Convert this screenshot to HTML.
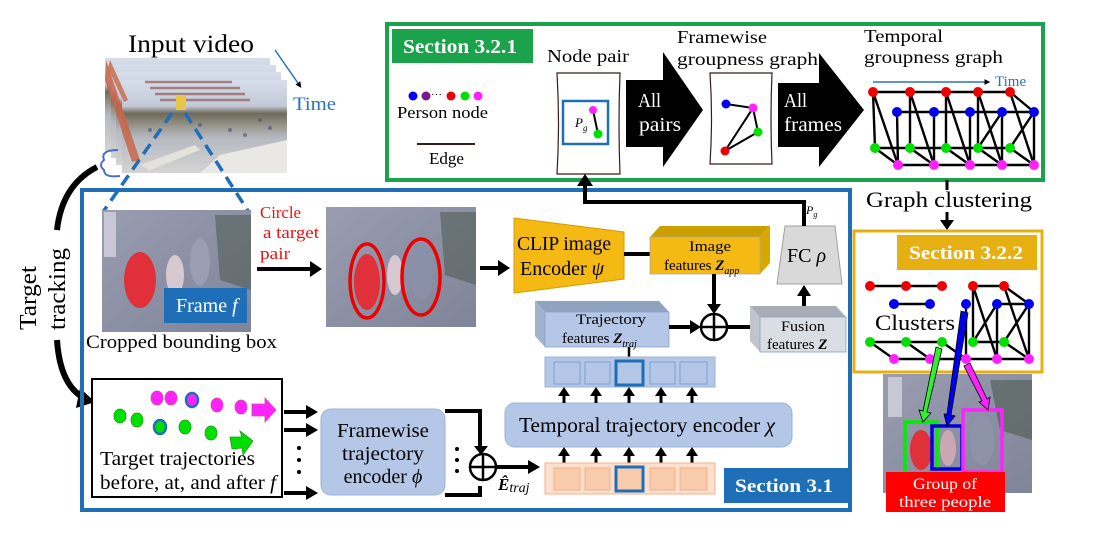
<!DOCTYPE html>
<html><head><meta charset="utf-8"><style>
html,body{margin:0;padding:0;background:#fff;}
svg{display:block;font-family:"Liberation Serif","DejaVu Serif",serif;}
</style></head><body>
<svg width="1094" height="539" viewBox="0 0 1094 539" xmlns="http://www.w3.org/2000/svg">
<defs>
<marker id="ah" markerWidth="4" markerHeight="4" refX="2.5" refY="2" orient="auto" markerUnits="strokeWidth"><path d="M0,0 L4,2 L0,4 z" fill="#000"/></marker>
<linearGradient id="vid" x1="0" y1="0" x2="0" y2="1"><stop offset="0" stop-color="#d6deec"/><stop offset="0.28" stop-color="#c3c9d6"/><stop offset="0.36" stop-color="#6f6a5a"/><stop offset="0.5" stop-color="#9a9890"/><stop offset="0.62" stop-color="#b7b9c2"/><stop offset="1" stop-color="#d4d4d2"/></linearGradient>
<linearGradient id="ph" x1="0" y1="0" x2="1" y2="1"><stop offset="0" stop-color="#9a9db0"/><stop offset="0.6" stop-color="#8a8ea3"/><stop offset="1" stop-color="#7f8498"/></linearGradient>
</defs>

<!-- Input video -->
<text x="128" y="52" font-size="25" textLength="126" lengthAdjust="spacingAndGlyphs">Input video</text>
<g>
<rect x="105" y="58" width="165" height="93" fill="url(#vid)"/>
<rect x="111" y="65" width="165" height="93" fill="url(#vid)"/>
<rect x="116" y="72" width="165" height="93" fill="url(#vid)"/>
<rect x="122" y="80" width="165" height="93" fill="url(#vid)"/>
<g stroke="#9a6a6a" stroke-width="2.5" opacity="0.8"><line x1="145" y1="82" x2="232" y2="82"/><line x1="150" y1="88" x2="240" y2="88"/><line x1="155" y1="94" x2="245" y2="94"/><line x1="160" y1="100" x2="250" y2="100"/></g>
<path d="M106,60 L140,160 L132,162 L105,80 z" fill="#c8664a" opacity="0.85"/>
<path d="M110,60 L128,100 L124,102 L108,68 z" fill="#c8664a" opacity="0.8"/>
<rect x="176" y="95" width="10" height="15" fill="#e7c64a"/>
<g fill="#4a5070" opacity="0.6"><circle cx="200" cy="125" r="2"/><circle cx="230" cy="130" r="2"/><circle cx="260" cy="120" r="2"/><circle cx="150" cy="130" r="2"/><circle cx="245" cy="135" r="2"/><circle cx="270" cy="128" r="2"/></g>
<path d="M140,165 L195,145 L200,150 L150,170 z" fill="#e4e2dc"/>
<path d="M220,155 L287,140 L287,173 L200,173 z" fill="#e9e8e4"/>
</g>
<line x1="275" y1="50" x2="300" y2="86" stroke="#2a72bd" stroke-width="1.5" marker-end="url(#ah)"/>
<text x="293" y="110" font-size="19" fill="#2a72bd" textLength="43" lengthAdjust="spacingAndGlyphs">Time</text>
<line x1="172" y1="113" x2="103" y2="212" stroke="#1f6fb8" stroke-width="3.5" stroke-dasharray="12,7"/>
<line x1="185" y1="113" x2="250" y2="214" stroke="#1f6fb8" stroke-width="3.5" stroke-dasharray="12,7"/>
<path d="M118,150 Q100,150 104,160 Q98,165 104,170 Q104,178 120,176" fill="none" stroke="#4a6fc9" stroke-width="2"/>

<!-- Target tracking -->
<path d="M97,167 Q62,185 57,230" fill="none" stroke="#000" stroke-width="6"/>
<path d="M57,340 Q60,385 84,398" fill="none" stroke="#000" stroke-width="6"/>
<path d="M80,388 L95,402 L76,408 z" fill="#000"/>
<text transform="translate(36,330) rotate(-90)" font-size="24" textLength="64" lengthAdjust="spacingAndGlyphs">Target</text>
<text transform="translate(65,330) rotate(-90)" font-size="24" textLength="82" lengthAdjust="spacingAndGlyphs">tracking</text>

<!-- Green section -->
<rect x="387" y="24" width="656" height="156" fill="none" stroke="#1aa34a" stroke-width="4"/>
<rect x="392" y="29" width="141" height="34" fill="#1aa34a"/>
<text x="403" y="53" font-size="20" font-weight="bold" fill="#fff" textLength="114" lengthAdjust="spacingAndGlyphs">Section 3.2.1</text>
<circle cx="413" cy="96" r="4.5" fill="#0000ee"/><circle cx="426" cy="96" r="4.5" fill="#7a1a8a"/>
<text x="431" y="98" font-size="11">···</text>
<circle cx="451" cy="96" r="4.5" fill="#ee0000"/><circle cx="465" cy="96" r="4.5" fill="#00e000"/><circle cx="478" cy="96" r="4.5" fill="#ff22ff"/>
<text x="397" y="118" font-size="17" textLength="91" lengthAdjust="spacingAndGlyphs">Person node</text>
<line x1="417" y1="144" x2="475" y2="144" stroke="#3a1a1a" stroke-width="2"/>
<text x="429" y="164" font-size="17" textLength="35" lengthAdjust="spacingAndGlyphs">Edge</text>

<text x="547" y="62" font-size="18" textLength="82" lengthAdjust="spacingAndGlyphs">Node pair</text>
<path d="M557,73 L620,73 Q618,123 620,174 L557,174 Q560,123 557,73 z" fill="#fff" stroke="#3a1a1a" stroke-width="1.2"/>
<rect x="563" y="101" width="45" height="43" fill="none" stroke="#1f6fb8" stroke-width="2.5"/>
<line x1="593" y1="110" x2="598" y2="134" stroke="#000" stroke-width="2"/>
<circle cx="593" cy="110" r="4" fill="#ff22ff"/><circle cx="598" cy="134" r="4.5" fill="#00e000"/>
<text x="575" y="127" font-size="13" font-style="italic">P<tspan font-size="9" dy="4">g</tspan></text>

<path d="M626,80 L663,80 L663,52 L703,110 L663,167 L663,147 L626,147 z" fill="#000"/>
<text x="638" y="107" font-size="20" fill="#fff" textLength="23" lengthAdjust="spacingAndGlyphs">All</text>
<text x="639" y="131" font-size="20" fill="#fff" textLength="42" lengthAdjust="spacingAndGlyphs">pairs</text>

<text x="677" y="43" font-size="18" textLength="90" lengthAdjust="spacingAndGlyphs">Framewise</text>
<text x="677" y="65" font-size="18" textLength="141" lengthAdjust="spacingAndGlyphs">groupness graph</text>
<path d="M710,73 L772,73 Q770,118 772,164 L710,164 Q713,118 710,73 z" fill="#fff" stroke="#3a1a1a" stroke-width="1.2"/>
<polyline points="726,104 753,108 725,151 758,132 753,108" fill="none" stroke="#000" stroke-width="2"/>
<circle cx="726" cy="104" r="4.5" fill="#0000ee"/><circle cx="753" cy="108" r="4.5" fill="#ff22ff"/><circle cx="758" cy="132" r="4.5" fill="#00e000"/><circle cx="725" cy="151" r="4.5" fill="#ee0000"/>

<path d="M778,83 L819,83 L819,53 L864,110 L819,167 L819,147 L778,147 z" fill="#000"/>
<text x="784" y="107" font-size="20" fill="#fff" textLength="23" lengthAdjust="spacingAndGlyphs">All</text>
<text x="784" y="131" font-size="20" fill="#fff" textLength="58" lengthAdjust="spacingAndGlyphs">frames</text>

<text x="864" y="42" font-size="18" textLength="79" lengthAdjust="spacingAndGlyphs">Temporal</text>
<text x="864" y="63" font-size="18" textLength="139" lengthAdjust="spacingAndGlyphs">groupness graph</text>
<line x1="873" y1="82" x2="988" y2="82" stroke="#2a72bd" stroke-width="1.5" marker-end="url(#ah)"/>
<text x="995" y="86" font-size="15" fill="#2a72bd">Time</text>
<g stroke="#000" stroke-width="2.4" fill="none">
<line x1="873" y1="92" x2="1010" y2="92"/><line x1="897" y1="112" x2="1034" y2="112"/>
<line x1="875" y1="148" x2="1010" y2="148"/><line x1="898" y1="165" x2="1034" y2="165"/>
<line x1="873" y1="92" x2="875" y2="148"/><line x1="873" y1="92" x2="898" y2="165"/><line x1="875" y1="148" x2="898" y2="165"/>
<line x1="910" y1="92" x2="934" y2="165"/><line x1="910" y1="92" x2="910" y2="148"/><line x1="897" y1="112" x2="898" y2="165"/><line x1="910" y1="148" x2="934" y2="165"/>
<line x1="946" y1="92" x2="970" y2="165"/><line x1="934" y1="112" x2="934" y2="165"/><line x1="946" y1="92" x2="946" y2="148"/><line x1="946" y1="148" x2="970" y2="165"/>
<line x1="978" y1="92" x2="1002" y2="165"/><line x1="970" y1="112" x2="970" y2="165"/><line x1="978" y1="92" x2="978" y2="148"/><line x1="978" y1="148" x2="1002" y2="165"/><line x1="1002" y1="112" x2="978" y2="148"/>
<line x1="1010" y1="92" x2="1034" y2="112"/><line x1="1010" y1="92" x2="1034" y2="165"/><line x1="1034" y1="112" x2="1010" y2="148"/><line x1="1034" y1="112" x2="1034" y2="165"/><line x1="1010" y1="148" x2="1034" y2="165"/><line x1="1002" y1="112" x2="1002" y2="165"/>
</g>
<g>
<circle cx="873" cy="92" r="5" fill="#ee0000"/><circle cx="910" cy="92" r="5" fill="#ee0000"/><circle cx="946" cy="92" r="5" fill="#ee0000"/><circle cx="978" cy="92" r="5" fill="#ee0000"/><circle cx="1010" cy="92" r="5" fill="#ee0000"/>
<circle cx="897" cy="112" r="5" fill="#0000ee"/><circle cx="934" cy="112" r="5" fill="#0000ee"/><circle cx="970" cy="112" r="5" fill="#0000ee"/><circle cx="1002" cy="112" r="5" fill="#0000ee"/><circle cx="1034" cy="112" r="5" fill="#0000ee"/>
<circle cx="875" cy="148" r="5" fill="#00e000"/><circle cx="910" cy="148" r="5" fill="#00e000"/><circle cx="946" cy="148" r="5" fill="#00e000"/><circle cx="978" cy="148" r="5" fill="#00e000"/><circle cx="1010" cy="148" r="5" fill="#00e000"/>
<circle cx="898" cy="165" r="5" fill="#ff22ff"/><circle cx="934" cy="165" r="5" fill="#ff22ff"/><circle cx="970" cy="165" r="5" fill="#ff22ff"/><circle cx="1002" cy="165" r="5" fill="#ff22ff"/><circle cx="1034" cy="165" r="5" fill="#ff22ff"/>
</g>

<!-- Graph clustering -->
<line x1="947" y1="180" x2="947" y2="190" stroke="#000" stroke-width="3"/>
<text x="866" y="207" font-size="22" textLength="166" lengthAdjust="spacingAndGlyphs">Graph clustering</text>
<line x1="947" y1="212" x2="947" y2="222" stroke="#000" stroke-width="3"/>
<path d="M940,220 L954,220 L947,230 z" fill="#000"/>
<rect x="854" y="231" width="188" height="141" fill="none" stroke="#e6b012" stroke-width="3"/>
<rect x="897" y="235" width="140" height="35" fill="#e6b012"/>
<text x="909" y="259" font-size="19" font-weight="bold" fill="#fff" textLength="114" lengthAdjust="spacingAndGlyphs">Section 3.2.2</text>
<g stroke="#000" stroke-width="2.4">
<line x1="870" y1="286" x2="942" y2="286"/><line x1="894" y1="304" x2="930" y2="304"/>
<line x1="870" y1="342" x2="942" y2="342"/><line x1="870" y1="342" x2="894" y2="359"/><line x1="906" y1="342" x2="930" y2="359"/><line x1="942" y1="342" x2="966" y2="359"/><line x1="894" y1="359" x2="1029" y2="359"/>
<line x1="973" y1="286" x2="1004" y2="286"/><line x1="973" y1="286" x2="973" y2="342"/><line x1="973" y1="286" x2="997" y2="359"/><line x1="997" y1="304" x2="973" y2="342"/><line x1="1004" y1="286" x2="1029" y2="304"/><line x1="1004" y1="286" x2="1029" y2="359"/><line x1="1029" y1="304" x2="1004" y2="342"/><line x1="1029" y1="304" x2="1029" y2="359"/><line x1="997" y1="304" x2="1029" y2="304"/><line x1="966" y1="304" x2="966" y2="359"/><line x1="997" y1="304" x2="997" y2="359"/><line x1="973" y1="342" x2="1004" y2="342"/><line x1="1004" y1="342" x2="1029" y2="359"/>
</g>
<g>
<circle cx="870" cy="286" r="5" fill="#ee0000"/><circle cx="906" cy="286" r="5" fill="#ee0000"/><circle cx="942" cy="286" r="5" fill="#ee0000"/><circle cx="973" cy="286" r="5" fill="#ee0000"/><circle cx="1004" cy="286" r="5" fill="#ee0000"/>
<circle cx="894" cy="304" r="5" fill="#0000ee"/><circle cx="930" cy="304" r="5" fill="#0000ee"/><circle cx="966" cy="304" r="5" fill="#0000ee"/><circle cx="997" cy="304" r="5" fill="#0000ee"/><circle cx="1029" cy="304" r="5" fill="#0000ee"/>
<circle cx="870" cy="342" r="5" fill="#00e000"/><circle cx="906" cy="342" r="5" fill="#00e000"/><circle cx="942" cy="342" r="5" fill="#00e000"/><circle cx="973" cy="342" r="5" fill="#00e000"/><circle cx="1004" cy="342" r="5" fill="#00e000"/>
<circle cx="894" cy="359" r="5" fill="#ff22ff"/><circle cx="930" cy="359" r="5" fill="#ff22ff"/><circle cx="966" cy="359" r="5" fill="#ff22ff"/><circle cx="997" cy="359" r="5" fill="#ff22ff"/><circle cx="1029" cy="359" r="5" fill="#ff22ff"/>
</g>
<text x="875" y="330" font-size="22" textLength="80" lengthAdjust="spacingAndGlyphs">Clusters</text>
<!-- group photo -->
<rect x="883" y="374" width="149" height="119" fill="url(#ph)"/>
<path d="M990,380 L1032,380 L1032,440 L1000,430 z" fill="#4d5a4e" opacity="0.6"/>
<rect x="888" y="377" width="14" height="40" fill="#c8c8d4"/>
<ellipse cx="921" cy="450" rx="11" ry="20" fill="#e0303a"/>
<ellipse cx="948" cy="448" rx="8" ry="18" fill="#c9a7b3"/>
<ellipse cx="982" cy="440" rx="12" ry="25" fill="#8d93a8"/>
<rect x="905" y="422" width="32" height="51" fill="none" stroke="#00ee00" stroke-width="3.5"/>
<rect x="932" y="426" width="30" height="43" fill="none" stroke="#0000dd" stroke-width="3.5"/>
<rect x="963" y="410" width="39" height="62" fill="none" stroke="#ff22ff" stroke-width="3.5"/>
<rect x="886" y="472" width="119" height="40" fill="#ff0000"/>
<text x="945" y="489" font-size="16" fill="#fff" text-anchor="middle" textLength="64" lengthAdjust="spacingAndGlyphs">Group of</text>
<text x="945" y="507" font-size="16" fill="#fff" text-anchor="middle" textLength="92" lengthAdjust="spacingAndGlyphs">three people</text>
<!-- cluster arrows -->
<path d="M936,347 L942,349 L927,412 L931,413 L923,422 L919,410 L923,411 z" fill="#33ee33" stroke="#000" stroke-width="0.8"/>
<path d="M961,311 L968,313 L951,415 L955,416 L947,426 L944,414 L947,414 z" fill="#0000ee" stroke="#000" stroke-width="0.8"/>
<path d="M964,366 L970,363 L987,399 L990,397 L988,410 L979,402 L982,401 z" fill="#ff22ff" stroke="#000" stroke-width="0.8"/>

<!-- Blue main section -->
<rect x="82" y="190" width="768" height="320" fill="none" stroke="#1f6fb8" stroke-width="4"/>
<rect x="102" y="210" width="149" height="122" fill="url(#ph)"/>
<path d="M215,215 L251,215 L251,290 L220,280 z" fill="#4d5a4e" opacity="0.55"/>
<rect x="104" y="212" width="12" height="45" fill="#c8c8d4"/>
<ellipse cx="140" cy="280" rx="16" ry="28" fill="#e0303a"/>
<ellipse cx="175" cy="275" rx="9" ry="20" fill="#d8c8d0"/>
<ellipse cx="200" cy="262" rx="10" ry="24" fill="#9a9eb4"/>
<rect x="164" y="288" width="83" height="35" fill="#1f6fb8"/>
<text x="176" y="312" font-size="20" fill="#fff">Frame <tspan font-style="italic">f</tspan></text>
<text x="86" y="348" font-size="19" textLength="191" lengthAdjust="spacingAndGlyphs">Cropped bounding box</text>
<text x="260" y="218" font-size="17" fill="#ee1111" textLength="41" lengthAdjust="spacingAndGlyphs">Circle</text>
<text x="263" y="238" font-size="17" fill="#ee1111" textLength="56" lengthAdjust="spacingAndGlyphs">a target</text>
<text x="260" y="259" font-size="17" fill="#ee1111" textLength="30" lengthAdjust="spacingAndGlyphs">pair</text>
<line x1="257" y1="269" x2="312" y2="269" stroke="#000" stroke-width="4"/>
<path d="M310,261 L322,269 L310,277 z" fill="#000"/>
<rect x="326" y="207" width="150" height="120" fill="url(#ph)"/>
<path d="M440,212 L476,212 L476,285 L445,275 z" fill="#4d5a4e" opacity="0.55"/>
<ellipse cx="367" cy="282" rx="13" ry="28" fill="#e0303a"/>
<ellipse cx="395" cy="275" rx="8" ry="20" fill="#d8c8d0"/>
<ellipse cx="421" cy="272" rx="12" ry="28" fill="#8a90a8"/>
<ellipse cx="367" cy="281" rx="17" ry="37" fill="none" stroke="#ee0000" stroke-width="3.5"/>
<ellipse cx="421" cy="277" rx="19" ry="38" fill="none" stroke="#ee0000" stroke-width="3.5"/>
<line x1="480" y1="268" x2="500" y2="268" stroke="#000" stroke-width="4"/>
<path d="M498,260 L510,268 L498,276 z" fill="#000"/>

<!-- CLIP -->
<path d="M514,218 L624,232 L624,279 L514,293 z" fill="#f5b914" stroke="#d69d00" stroke-width="1"/>
<text x="517" y="250" font-size="20" textLength="94" lengthAdjust="spacingAndGlyphs">CLIP image</text>
<text x="520" y="275" font-size="20">Encoder <tspan font-style="italic">ψ</tspan></text>
<line x1="624" y1="254" x2="650" y2="254" stroke="#000" stroke-width="4"/>
<path d="M650,237 L660,226 L770,226 L760,237 z" fill="#c9a000"/>
<path d="M760,237 L770,226 L770,263 L760,274 z" fill="#d8a800"/>
<rect x="650" y="237" width="110" height="37" fill="#f5b914" stroke="#a8a8a8" stroke-width="0.8"/>
<text x="689" y="251" font-size="15" textLength="42" lengthAdjust="spacingAndGlyphs">Image</text>
<text x="664" y="270" font-size="15">features <tspan font-weight="bold" font-style="italic">Z</tspan><tspan font-size="10" font-style="italic" dy="4">app</tspan></text>
<!-- FC -->
<path d="M785,226 L835,226 L842,284 L777,284 z" fill="#d9d9d9" stroke="#a0a0a0" stroke-width="1"/>
<text x="787" y="262" font-size="20">FC <tspan font-style="italic">ρ</tspan></text>
<polyline points="804,226 804,202 585,202 585,184" fill="none" stroke="#000" stroke-width="4"/>
<path d="M577,186 L585,174 L593,186 z" fill="#000"/>
<text x="806" y="214" font-size="12" font-style="italic">P<tspan font-size="8" dy="3">g</tspan></text>
<!-- plus -->
<line x1="714" y1="274" x2="714" y2="306" stroke="#000" stroke-width="4"/>
<path d="M707,304 L714,314 L721,304 z" fill="#000"/>
<circle cx="714" cy="327" r="13" fill="#fff" stroke="#000" stroke-width="2.5"/>
<line x1="701" y1="327" x2="727" y2="327" stroke="#000" stroke-width="2.5"/><line x1="714" y1="314" x2="714" y2="340" stroke="#000" stroke-width="2.5"/>
<!-- traj features -->
<path d="M545,312 L535,301 L659,301 L669,312 z" fill="#8fa3c0"/>
<path d="M545,312 L535,301 L535,336 L545,347 z" fill="#9fb2cf"/>
<rect x="545" y="312" width="124" height="35" fill="#b4c7e7" stroke="#8aa0c8" stroke-width="0.8"/>
<text x="576" y="324" font-size="15" textLength="70" lengthAdjust="spacingAndGlyphs">Trajectory</text>
<text x="562" y="343" font-size="15">features <tspan font-weight="bold" font-style="italic">Z</tspan><tspan font-size="10" font-style="italic" dy="4">traj</tspan></text>
<line x1="669" y1="327" x2="692" y2="327" stroke="#000" stroke-width="4"/>
<path d="M690,320 L701,327 L690,334 z" fill="#000"/>
<line x1="727" y1="327" x2="750" y2="327" stroke="#000" stroke-width="4"/>
<!-- fusion -->
<path d="M760,317 L750,306 L836,306 L846,317 z" fill="#a8acb4"/>
<path d="M760,317 L750,306 L750,341 L760,352 z" fill="#c0c4cc"/>
<rect x="760" y="317" width="86" height="35" fill="#d9dde4" stroke="#8aa0c8" stroke-width="0.8"/>
<text x="781" y="331" font-size="15" textLength="44" lengthAdjust="spacingAndGlyphs">Fusion</text>
<text x="767" y="349" font-size="15">features <tspan font-weight="bold" font-style="italic">Z</tspan></text>
<line x1="804" y1="306" x2="804" y2="294" stroke="#000" stroke-width="4"/>
<path d="M797,296 L804,285 L811,296 z" fill="#000"/>
<!-- token rows -->
<line x1="629" y1="347" x2="629" y2="357" stroke="#000" stroke-width="2.5"/>
<rect x="545" y="357" width="170" height="30" fill="#b4c7e7" stroke="#9cb2d8" stroke-width="1"/>
<g fill="#b4c7e7" stroke="#7f9fd0" stroke-width="1">
<rect x="554" y="362" width="26" height="22"/><rect x="585" y="362" width="25" height="22"/><rect x="650" y="362" width="25" height="22"/><rect x="680" y="362" width="27" height="22"/>
</g>
<rect x="616" y="361" width="27" height="24" fill="#b4c7e7" stroke="#1f6fb8" stroke-width="3"/>
<rect x="505" y="403" width="287" height="44" rx="10" fill="#b4c7e7" stroke="#9cb2d8" stroke-width="1"/>
<text x="519" y="432" font-size="21" textLength="256" lengthAdjust="spacingAndGlyphs">Temporal trajectory encoder <tspan font-style="italic">χ</tspan></text>
<g stroke="#000" stroke-width="3">
<line x1="564" y1="403" x2="564" y2="394"/><line x1="596" y1="403" x2="596" y2="394"/><line x1="629" y1="403" x2="629" y2="394"/><line x1="661" y1="403" x2="661" y2="394"/><line x1="692" y1="403" x2="692" y2="394"/>
<line x1="564" y1="463" x2="564" y2="454"/><line x1="596" y1="463" x2="596" y2="454"/><line x1="629" y1="463" x2="629" y2="454"/><line x1="661" y1="463" x2="661" y2="454"/><line x1="692" y1="463" x2="692" y2="454"/>
</g>
<g fill="#000">
<path d="M558,396 L564,387 L570,396 z"/><path d="M590,396 L596,387 L602,396 z"/><path d="M623,396 L629,387 L635,396 z"/><path d="M655,396 L661,387 L667,396 z"/><path d="M686,396 L692,387 L698,396 z"/>
<path d="M558,456 L564,447 L570,456 z"/><path d="M590,456 L596,447 L602,456 z"/><path d="M623,456 L629,447 L635,456 z"/><path d="M655,456 L661,447 L667,456 z"/><path d="M686,456 L692,447 L698,456 z"/>
</g>
<rect x="545" y="463" width="170" height="31" fill="#fbe0cf" stroke="#f4b183" stroke-width="1"/>
<g fill="#f8cbad" stroke="#f4b183" stroke-width="1">
<rect x="554" y="468" width="26" height="22"/><rect x="585" y="468" width="25" height="22"/><rect x="650" y="468" width="25" height="22"/><rect x="680" y="468" width="27" height="22"/>
</g>
<rect x="616" y="467" width="27" height="24" fill="#f8cbad" stroke="#1f6fb8" stroke-width="3"/>

<!-- Target trajectories box -->
<rect x="92" y="379" width="190" height="118" fill="#fff" stroke="#000" stroke-width="2"/>
<g stroke="#d14a9a" stroke-width="0.8">
<ellipse cx="157" cy="398" rx="6" ry="7" fill="#ff22ff"/><ellipse cx="171" cy="398" rx="6" ry="7" fill="#ff22ff"/>
<ellipse cx="217" cy="405" rx="6" ry="7" fill="#ff22ff"/><ellipse cx="241" cy="407" rx="6" ry="7" fill="#ff22ff"/>
</g>
<ellipse cx="192" cy="400" rx="6" ry="7" fill="#ff22ff" stroke="#1f6fb8" stroke-width="2.5"/>
<path d="M252,404 L265,404 L265,398 L276,410 L265,422 L265,416 L252,416 z" fill="#ff22ff" stroke="#d14a9a" stroke-width="0.8"/>
<g fill="#00e000" stroke="#1a9a1a" stroke-width="0.8">
<ellipse cx="120" cy="416" rx="6" ry="7"/><ellipse cx="137" cy="420" rx="6" ry="7"/><ellipse cx="185" cy="427" rx="6" ry="7"/><ellipse cx="211" cy="433" rx="6" ry="7"/>
<path d="M230,437 L242,437 L240,431 L253,441 L243,455 L242,448 L232,449 z"/>
</g>
<ellipse cx="160" cy="427" rx="6" ry="7" fill="#00e000" stroke="#1f6fb8" stroke-width="2.5"/>
<text x="100" y="465" font-size="20" textLength="155" lengthAdjust="spacingAndGlyphs">Target trajectories</text>
<text x="100" y="489" font-size="20" textLength="176" lengthAdjust="spacingAndGlyphs">before, at, and after <tspan font-style="italic">f</tspan></text>
<g stroke="#000" stroke-width="4">
<line x1="284" y1="412" x2="308" y2="412"/><line x1="284" y1="430" x2="308" y2="430"/><line x1="284" y1="493" x2="308" y2="493"/>
</g>
<g fill="#000">
<path d="M306,405 L318,412 L306,419 z"/><path d="M306,423 L318,430 L306,437 z"/><path d="M306,486 L318,493 L306,500 z"/>
<circle cx="299" cy="448" r="2"/><circle cx="299" cy="460" r="2"/><circle cx="299" cy="472" r="2"/>
<circle cx="457" cy="449" r="2"/><circle cx="457" cy="460" r="2"/><circle cx="457" cy="471" r="2"/>
</g>
<rect x="321" y="409" width="124" height="86" rx="10" fill="#b4c7e7" stroke="#9cb2d8" stroke-width="1"/>
<text x="383" y="437" font-size="20" text-anchor="middle" textLength="92" lengthAdjust="spacingAndGlyphs">Framewise</text>
<text x="383" y="460" font-size="20" text-anchor="middle" textLength="82" lengthAdjust="spacingAndGlyphs">trajectory</text>
<text x="383" y="483" font-size="20" text-anchor="middle">encoder <tspan font-style="italic">ϕ</tspan></text>
<polyline points="445,411 480,411 480,448" fill="none" stroke="#000" stroke-width="4"/>
<polyline points="445,495 480,495 480,486" fill="none" stroke="#000" stroke-width="4"/>
<path d="M474,446 L481,455 L488,446 z" fill="#000"/>
<circle cx="483" cy="467" r="13" fill="#fff" stroke="#000" stroke-width="2.5"/>
<line x1="470" y1="467" x2="496" y2="467" stroke="#000" stroke-width="2.5"/><line x1="483" y1="454" x2="483" y2="480" stroke="#000" stroke-width="2.5"/>
<line x1="497" y1="467" x2="530" y2="467" stroke="#000" stroke-width="4"/>
<path d="M528,460 L540,467 L528,474 z" fill="#000"/>
<text x="498" y="490" font-size="17"><tspan font-weight="bold" font-style="italic">Ê</tspan><tspan font-style="italic" font-size="14" dy="2">traj</tspan></text>
<rect x="724" y="468" width="124" height="35" fill="#1f6fb8"/>
<text x="735" y="492" font-size="19" font-weight="bold" fill="#fff" textLength="98" lengthAdjust="spacingAndGlyphs">Section 3.1</text>
</svg>
</body></html>
